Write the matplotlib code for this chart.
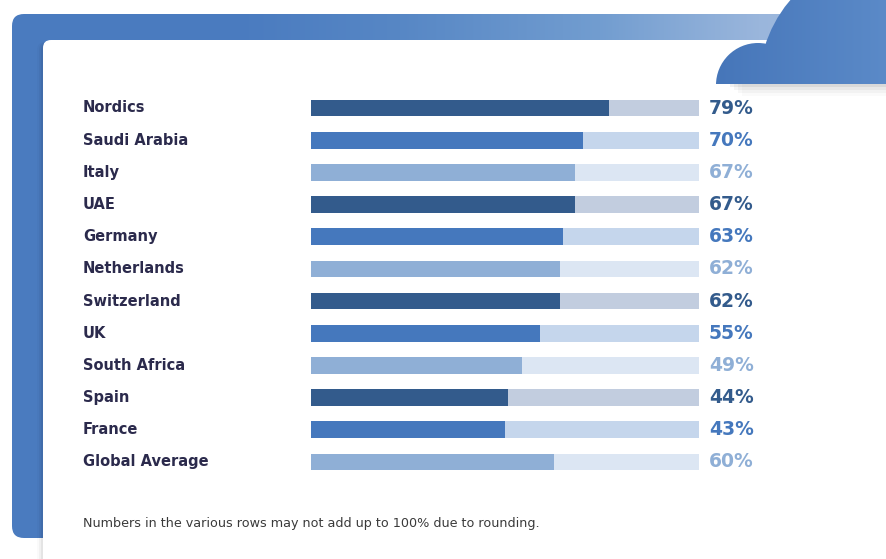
import matplotlib.pyplot as plt
import matplotlib.transforms as mtransforms
from matplotlib.patches import FancyBboxPatch, Circle, Rectangle
from matplotlib.colors import to_rgb
import numpy as np

# data
regions = ["Nordics", "Saudi Arabia", "Italy", "UAE", "Germany", "Netherlands",
           "Switzerland", "UK", "South Africa", "Spain", "France", "Global Average"]
shares = [79, 70, 67, 67, 63, 62, 62, 55, 49, 44, 43, 60]
footnote = "Numbers in the various rows may not add up to 100% due to rounding."

# bar / track / label colours cycle dark, medium, light (last row is light)
barColors = ["#335b8c", "#4578bd", "#8fafd6"]
trackColors = ["#c2cddf", "#c5d6ec", "#dce6f3"]
textColor = "#2b2a4c"

W, H = 887, 559
fig = plt.figure(figsize=(W / 100, H / 100), dpi=100)

# ---- decoration layer in pixel coordinates
bg = fig.add_axes([0, 0, 1, 1])
bg.axis("off")


def gradientImage(stopsX, stopsC, x0, x1, n=400):
    xs = np.linspace(x0, x1, n)
    rgb = np.array([to_rgb(c) for c in stopsC])
    img = np.stack([np.interp(xs, stopsX, rgb[:, k]) for k in range(3)], axis=-1)
    return img[np.newaxis, :, :]


# blue frame with gradient
frame = FancyBboxPatch((12, 14), 950, 524, boxstyle="round,pad=0,rounding_size=12",
                       facecolor="none", edgecolor="none")
bg.add_patch(frame)
img = gradientImage([0, 250, 400, 600, 760, 900],
                    ["#4a7bbf", "#4b7cc0", "#5787c5", "#729dd0", "#9ab6dc", "#aac3e3"], 0, 900)
im = bg.imshow(img, extent=(0, 900, 560, 0), aspect="auto", zorder=1)
im.set_clip_path(frame)

# card shadow + white card
for k, a in enumerate([0.05, 0.035, 0.02]):
    bg.add_patch(FancyBboxPatch((43 - 2 - k * 2, 40 + 2), 900, 560,
                                boxstyle="round,pad=0,rounding_size=8",
                                facecolor="black", edgecolor="none", alpha=a, zorder=2))
bg.add_patch(FancyBboxPatch((43, 40), 900, 560, boxstyle="round,pad=0,rounding_size=8",
                            facecolor="white", edgecolor="none", zorder=3))

# cloud shadow
for k, a in enumerate([0.06, 0.04, 0.03, 0.02]):
    bg.add_patch(Rectangle((730 + k * 4, 84), 200, 3 + k * 3, facecolor="black",
                           edgecolor="none", alpha=a, zorder=3.5))

# cloud in the top right corner, flat bottom at y=84
cloudImg = gradientImage([700, 887], ["#4474b8", "#5b8ac8"], 700, 887)
cloudParts = [Circle((758, 85), 42), Circle((890, 85), 131)]
for part in cloudParts:
    part.set_facecolor("none")
    part.set_edgecolor("none")
    bg.add_patch(part)
    ci = bg.imshow(cloudImg, extent=(700, 887, 84, 0), aspect="auto", zorder=4)
    ci.set_clip_path(part)
bg.set_xlim(0, W)
bg.set_ylim(H, 0)

# ---- chart layer
rowTop, rowStep = 108, 32.18
n = len(regions)
axTop = rowTop - rowStep / 2
axBottom = axTop + n * rowStep
ax = fig.add_axes([311 / W, 1 - axBottom / H, (699 - 311) / W, (axBottom - axTop) / H])
ax.patch.set_alpha(0)
ax.axis("off")
xMin, xMax = -23.6, 109.8
ax.set_xlim(xMin, xMax)
ax.set_ylim(n - 0.5, -0.5)

ypos = np.arange(n)
cIdx = [i % 3 for i in range(n)]
cIdx[-1] = 2
ax.barh(ypos, xMax - xMin, left=xMin, height=0.52,
        color=[trackColors[c] for c in cIdx], zorder=1)
ax.barh(ypos, np.array(shares) - xMin, left=xMin, height=0.52,
        color=[barColors[c] for c in cIdx], zorder=2)

trans = mtransforms.blended_transform_factory(fig.transFigure, ax.transData)
for i, (name, v) in enumerate(zip(regions, shares)):
    ax.text(83 / W, i, name, transform=trans, ha="left", va="center",
            fontsize=10.5, fontweight="bold", color=textColor, family="DejaVu Sans")
    ax.text(709 / W, i, f"{v}%", transform=trans, ha="left", va="center",
            fontsize=13.5, fontweight="bold", color=barColors[cIdx[i]], family="DejaVu Sans")

fig.text(83 / W, 1 - 523 / H, footnote, ha="left", va="center", fontsize=9.2,
         color="#3a3a3a", family="DejaVu Sans")

fig.savefig("out.png", dpi=100)
